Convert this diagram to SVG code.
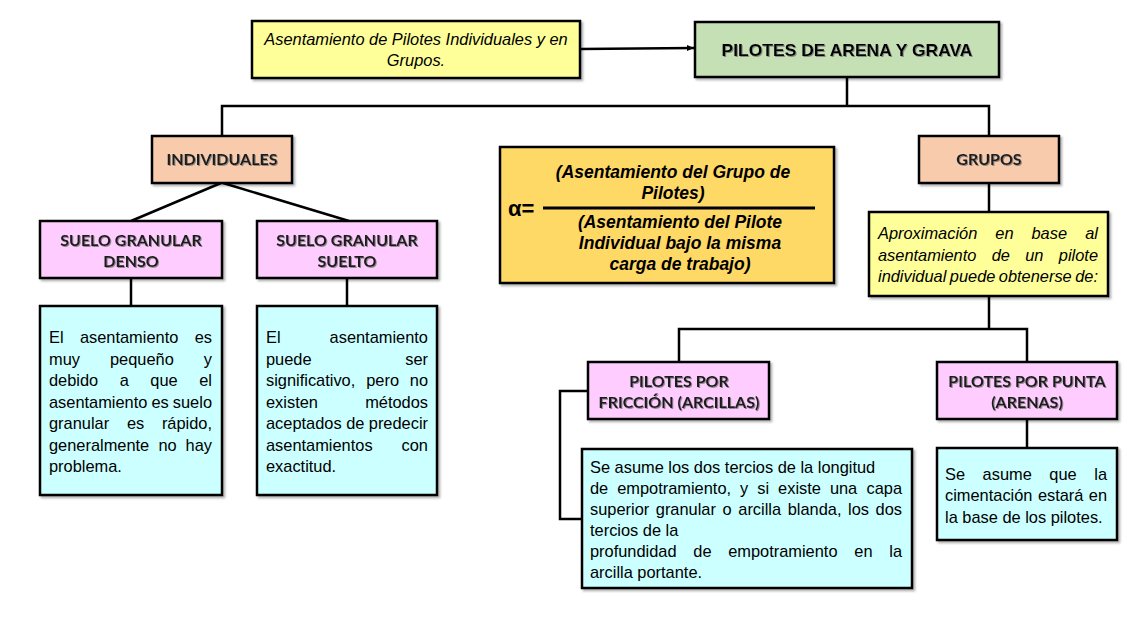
<svg xmlns="http://www.w3.org/2000/svg" width="1138" height="640" viewBox="0 0 1138 640">
<defs>
<style>
.box{stroke:#000;stroke-width:2.5;filter:url(#sh)}
.yel{fill:#ffff99}.grn{fill:#c5e0b4}.sal{fill:#f8cbad}.pnk{fill:#ffccff}.cyn{fill:#ccffff}.org{fill:#ffd966}
.con{fill:none;stroke:#000;stroke-width:2.5}
.c{font-family:"Liberation Sans",Arial,sans-serif;font-size:16.4px;fill:#000}
.it{font-style:italic}
.b{font-family:Lato,"Open Sans",sans-serif;font-size:16px;font-weight:700;fill:#1a1a1a;filter:url(#ts)}
.ar{font-family:"Liberation Sans",Arial,sans-serif;font-weight:700;fill:#000}
.fi{font-family:"Liberation Sans",Arial,sans-serif;font-weight:700;font-style:italic;font-size:17.5px;fill:#000}
</style>
<filter id="sh" x="-10%" y="-10%" width="130%" height="130%">
<feDropShadow dx="2" dy="2" stdDeviation="1" flood-color="#000" flood-opacity="0.3"/>
</filter>
<filter id="ts" x="-10%" y="-30%" width="130%" height="160%">
<feDropShadow dx="1" dy="1" stdDeviation="0.7" flood-color="#777" flood-opacity="0.8"/>
</filter>
<marker id="arr" markerWidth="8" markerHeight="8" refX="7" refY="4" orient="auto" markerUnits="userSpaceOnUse">
<path d="M0,1 L7,4 L0,7 z" fill="#000"/>
</marker>
</defs>
<rect width="1138" height="640" fill="#fff"/>

<g id="connectors">
<path class="con" d="M580,49 L694,48" marker-end="url(#arr)"/>
<path class="con" d="M847,77 V106 M222,136 V106 H989 V136"/>
<path class="con" d="M221,183 L131,221 M223,183 L349,221"/>
<path class="con" d="M131,278 V306 M347,278 V306"/>
<path class="con" d="M989,183 V212"/>
<path class="con" d="M989,296 V329 M679,362 V329 H1027 V362"/>
<path class="con" d="M588,391 H560 V519 H582"/>
<path class="con" d="M1027,419 V448"/>
</g>

<g id="titulo-asentamiento">
<rect class="box yel" x="252" y="21" width="328" height="57"/>
<text class="c it" x="416" y="45" font-size="16" text-anchor="middle">Asentamiento de Pilotes Individuales y en</text>
<text class="c it" x="416" y="66" font-size="16" text-anchor="middle">Grupos.</text>
</g>

<g id="pilotes-arena-grava">
<rect class="box grn" x="695" y="22" width="304" height="55"/>
<text class="ar" x="847" y="56" font-size="17" text-anchor="middle" textLength="251" lengthAdjust="spacingAndGlyphs" filter="url(#ts)">PILOTES DE ARENA Y GRAVA</text>
</g>

<g id="individuales">
<rect class="box sal" x="152" y="136" width="140" height="47"/>
<text class="b" x="222" y="165" text-anchor="middle">INDIVIDUALES</text>
</g>

<g id="grupos">
<rect class="box sal" x="919" y="136" width="140" height="47"/>
<text class="b" x="989" y="165" text-anchor="middle">GRUPOS</text>
</g>

<g id="formula">
<rect class="box org" x="500" y="147" width="334" height="136"/>
<text class="fi" x="673" y="178" text-anchor="middle">(Asentamiento del Grupo de</text>
<text class="fi" x="673" y="199" text-anchor="middle">Pilotes)</text>
<line x1="543" y1="208" x2="815" y2="208" stroke="#000" stroke-width="3"/>
<text class="ar" x="508" y="216" font-size="22">α=</text>
<text class="fi" x="680" y="228" text-anchor="middle">(Asentamiento del Pilote</text>
<text class="fi" x="680" y="249" text-anchor="middle">Individual bajo la misma</text>
<text class="fi" x="680" y="270" text-anchor="middle">carga de trabajo)</text>
</g>

<g id="suelo-denso">
<rect class="box pnk" x="40" y="221" width="182" height="57"/>
<text class="b" x="131" y="246" text-anchor="middle">SUELO GRANULAR</text>
<text class="b" x="131" y="267" text-anchor="middle">DENSO</text>
</g>

<g id="suelo-suelto">
<rect class="box pnk" x="257" y="221" width="180" height="57"/>
<text class="b" x="347" y="246" text-anchor="middle">SUELO GRANULAR</text>
<text class="b" x="347" y="267" text-anchor="middle">SUELTO</text>
</g>

<g id="texto-denso">
<rect class="box cyn" x="40" y="306" width="182" height="189"/>
<text class="c" y="343"><tspan x="49">El</tspan><tspan x="79.9">asentamiento</tspan><tspan x="212" text-anchor="end">es</tspan></text>
<text class="c" y="364.5"><tspan x="49">muy</tspan><tspan x="110">pequeño</tspan><tspan x="212" text-anchor="end">y</tspan></text>
<text class="c" y="386"><tspan x="49">debido</tspan><tspan x="119.7">a</tspan><tspan x="150.3">que</tspan><tspan x="212" text-anchor="end">el</tspan></text>
<text class="c" y="407.5"><tspan x="49">asentamiento</tspan><tspan x="151.5">es</tspan><tspan x="212" text-anchor="end">suelo</tspan></text>
<text class="c" y="429"><tspan x="49">granular</tspan><tspan x="126.9">es</tspan><tspan x="212" text-anchor="end">rápido,</tspan></text>
<text class="c" y="450.5"><tspan x="49">generalmente</tspan><tspan x="158.4">no</tspan><tspan x="212" text-anchor="end">hay</tspan></text>
<text class="c" x="49" y="472">problema.</text>
</g>

<g id="texto-suelto">
<rect class="box cyn" x="257" y="306" width="180" height="189"/>
<text class="c" y="343"><tspan x="266">El</tspan><tspan x="428" text-anchor="end">asentamiento</tspan></text>
<text class="c" y="364.5"><tspan x="266">puede</tspan><tspan x="428" text-anchor="end">ser</tspan></text>
<text class="c" y="386"><tspan x="266">significativo,</tspan><tspan x="366.2">pero</tspan><tspan x="428" text-anchor="end">no</tspan></text>
<text class="c" y="407.5"><tspan x="266">existen</tspan><tspan x="428" text-anchor="end">métodos</tspan></text>
<text class="c" y="429"><tspan x="266">aceptados</tspan><tspan x="346.2">de</tspan><tspan x="428" text-anchor="end">predecir</tspan></text>
<text class="c" y="450.5"><tspan x="266">asentamientos</tspan><tspan x="428" text-anchor="end">con</tspan></text>
<text class="c" x="266" y="472">exactitud.</text>
</g>

<g id="aproximacion">
<rect class="box yel" x="869" y="212" width="239" height="84"/>
<text class="c it" y="239"><tspan x="878">Aproximación</tspan><tspan x="995.3">en</tspan><tspan x="1031.5">base</tspan><tspan x="1098" text-anchor="end">al</tspan></text>
<text class="c it" y="261"><tspan x="878">asentamiento</tspan><tspan x="991.7">de</tspan><tspan x="1025.2">un</tspan><tspan x="1098" text-anchor="end">pilote</tspan></text>
<text class="c it" y="282"><tspan x="878">individual</tspan><tspan x="949.8">puede</tspan><tspan x="998.8">obtenerse</tspan><tspan x="1098" text-anchor="end">de:</tspan></text>
</g>

<g id="pilotes-friccion">
<rect class="box pnk" x="588" y="362" width="181" height="57"/>
<text class="b" x="679" y="387" text-anchor="middle">PILOTES POR</text>
<text class="b" x="679" y="408" text-anchor="middle">FRICCIÓN (ARCILLAS)</text>
</g>

<g id="pilotes-punta">
<rect class="box pnk" x="937" y="362" width="180" height="57"/>
<text class="b" x="1027" y="387" text-anchor="middle">PILOTES POR PUNTA</text>
<text class="b" x="1027" y="408" text-anchor="middle">(ARENAS)</text>
</g>

<g id="texto-friccion">
<rect class="box cyn" x="582" y="449" width="330" height="139"/>
<text class="c" x="590" y="473">Se asume los dos tercios de la longitud</text>
<text class="c" y="494"><tspan x="590">de</tspan><tspan x="617.2">empotramiento,</tspan><tspan x="740.1">y</tspan><tspan x="757.3">si</tspan><tspan x="778.1">existe</tspan><tspan x="829.9">una</tspan><tspan x="902" text-anchor="end">capa</tspan></text>
<text class="c" y="515"><tspan x="590">superior</tspan><tspan x="655.8">granular</tspan><tspan x="722.6">o</tspan><tspan x="738.3">arcilla</tspan><tspan x="787.7">blanda,</tspan><tspan x="848.1">los</tspan><tspan x="902" text-anchor="end">dos</tspan></text>
<text class="c" x="590" y="536">tercios de la</text>
<text class="c" y="557"><tspan x="590">profundidad</tspan><tspan x="693.3">de</tspan><tspan x="728.2">empotramiento</tspan><tspan x="854.3">en</tspan><tspan x="902" text-anchor="end">la</tspan></text>
<text class="c" x="590" y="578">arcilla portante.</text>
</g>

<g id="texto-punta">
<rect class="box cyn" x="937" y="448" width="180" height="92"/>
<text class="c" y="479.5"><tspan x="945">Se</tspan><tspan x="982.6">asume</tspan><tspan x="1049.3">que</tspan><tspan x="1107" text-anchor="end">la</tspan></text>
<text class="c" y="501"><tspan x="945">cimentación</tspan><tspan x="1037.9">estará</tspan><tspan x="1107" text-anchor="end">en</tspan></text>
<text class="c" x="945" y="522.5">la base de los pilotes.</text>
</g>
</svg>
